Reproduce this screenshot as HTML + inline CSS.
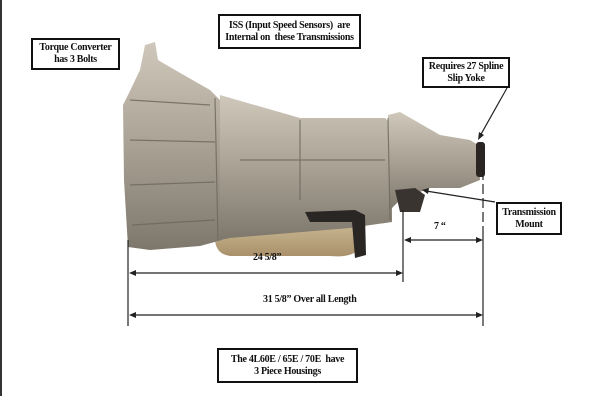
<!DOCTYPE html>
<html><head><meta charset="utf-8"><style>
html,body{margin:0;padding:0;background:#fff;}
body{width:600px;height:400px;position:relative;overflow:hidden;font-family:"Liberation Serif",serif;}
.box{position:absolute;border:2px solid #111;background:#fff;font-weight:bold;font-size:10px;line-height:12px;text-align:center;box-sizing:border-box;display:flex;align-items:center;justify-content:center;color:#111;letter-spacing:-0.3px;}
.t{position:absolute;font-weight:bold;font-size:10px;color:#111;white-space:nowrap;letter-spacing:-0.3px;}
</style></head><body>
<svg width="600" height="400" style="position:absolute;left:0;top:0">
<defs>
<linearGradient id="g" x1="0" y1="0" x2="0" y2="1">
<stop offset="0" stop-color="#cfc8bb"/><stop offset="0.5" stop-color="#a9a194"/><stop offset="1" stop-color="#7e776c"/></linearGradient>
<linearGradient id="p" x1="0" y1="0" x2="0" y2="1">
<stop offset="0" stop-color="#c8b690"/><stop offset="1" stop-color="#a8906a"/></linearGradient>
</defs>
<line x1="1" y1="0" x2="1" y2="396" stroke="#333" stroke-width="2"/>
<path d="M215 225 L360 225 L358 250 Q350 258 330 256 L230 256 Q216 254 215 240Z" fill="url(#p)"/>
<path d="M145 45 L155 42 L158 60 L175 70 L210 90 L220 100 L222 240 L200 246 L150 250 L128 247 L124 180 L123 105 L128 95 L140 70Z" fill="url(#g)"/>
<path d="M220 95 L300 118 L385 118 L392 125 L392 222 L350 228 L230 238 L220 240Z" fill="url(#g)"/>
<path d="M388 115 L400 112 L440 135 L470 140 L478 145 L480 180 L460 188 L430 188 L400 200 L390 210Z" fill="url(#g)"/>
<rect x="476" y="142" width="9" height="35" rx="3" fill="#2a2522"/>
<g stroke="#6d665c" stroke-width="1.2" fill="none" opacity="0.8">
<path d="M130 100 L210 105"/><path d="M130 140 L215 142"/><path d="M130 185 L215 182"/><path d="M132 225 L215 220"/>
<path d="M215 98 L218 240"/><path d="M388 118 L390 220"/><path d="M240 160 L385 160"/><path d="M300 120 L300 200"/>
</g>
<path d="M305 212 L355 210 L365 215 L366 255 L355 258 L352 222 L310 222Z" fill="#2a2624"/>
<path d="M395 190 L415 188 L425 195 L420 212 L400 212Z" fill="#3a3430"/>
<g stroke="#222" stroke-width="1.2">
<line x1="128" y1="240" x2="128" y2="326"/>
<line x1="403" y1="210" x2="403" y2="282"/>
<line x1="483" y1="170" x2="483" y2="235" stroke-dasharray="10,4"/>
<line x1="483" y1="235" x2="483" y2="326"/>
<line x1="132" y1="273" x2="400" y2="273"/>
<line x1="407" y1="240" x2="480" y2="240"/>
<line x1="132" y1="315" x2="480" y2="315"/>
<line x1="507" y1="88" x2="480" y2="136"/>
<line x1="495" y1="202" x2="426" y2="191"/>
</g>
<g fill="#222">
<path d="M129 273 L136 270 L136 276Z"/><path d="M403 273 L396 270 L396 276Z"/>
<path d="M404 240 L411 237 L411 243Z"/><path d="M483 240 L476 237 L476 243Z"/>
<path d="M129 315 L136 312 L136 318Z"/><path d="M483 315 L476 312 L476 318Z"/>
<path d="M478 140 L479 132 L484 135Z"/><path d="M422 190 L429 188 L428 194Z"/>
</g>
</svg>
<div class="box" style="left:31px;top:38px;width:89px;height:32px;">Torque Converter<br>has 3 Bolts</div>
<div class="box" style="left:218px;top:14px;width:143px;height:35px;">ISS (Input Speed Sensors)&nbsp; are<br>Internal on&nbsp; these Transmissions</div>
<div class="box" style="left:422px;top:57px;width:88px;height:31px;">Requires 27 Spline<br>Slip Yoke</div>
<div class="box" style="left:496px;top:202px;width:66px;height:33px;">Transmission<br>Mount</div>
<div class="box" style="left:217px;top:348px;width:141px;height:35px;">The 4L60E / 65E / 70E&nbsp; have<br>3 Piece Housings</div>
<div class="t" style="left:253px;top:252px;">24 5/8”</div>
<div class="t" style="left:434px;top:221px;">7 “</div>
<div class="t" style="left:263px;top:294px;">31 5/8” Over all Length</div>
</body></html>
